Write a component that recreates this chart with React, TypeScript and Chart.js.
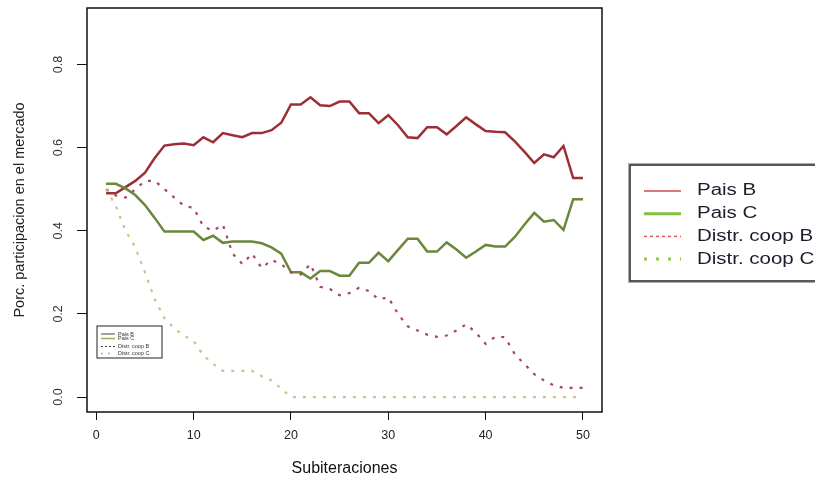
import React, { useEffect, useRef } from "react";
import { Chart, registerables } from "chart.js";
Chart.register(...registerables);

const iterations = [1, 2, 3, 4, 5, 6, 7, 8, 9, 10, 11, 12, 13, 14, 15, 16, 17, 18, 19, 20, 21, 22, 23, 24, 25, 26, 27, 28, 29, 30, 31, 32, 33, 34, 35, 36, 37, 38, 39, 40, 41, 42, 43, 44, 45, 46, 47, 48, 49, 50];

const paisB = [0.49, 0.49, 0.505, 0.52, 0.54, 0.575, 0.605, 0.608, 0.61, 0.606,
  0.625, 0.613, 0.635, 0.63, 0.625, 0.635, 0.635, 0.642, 0.66, 0.704,
  0.704, 0.721, 0.702, 0.70, 0.711, 0.711, 0.683, 0.683, 0.659, 0.678,
  0.654, 0.625, 0.623, 0.649, 0.649, 0.632, 0.652, 0.673, 0.656, 0.64,
  0.638, 0.637, 0.615, 0.59, 0.563, 0.584, 0.577, 0.604, 0.527, 0.527];

const paisC = [0.513, 0.513, 0.502, 0.486, 0.462, 0.431, 0.398, 0.398, 0.398, 0.398,
  0.378, 0.388, 0.371, 0.374, 0.374, 0.374, 0.37, 0.36, 0.345, 0.30,
  0.30, 0.285, 0.303, 0.303, 0.292, 0.292, 0.323, 0.323, 0.347, 0.327,
  0.354, 0.381, 0.381, 0.35, 0.35, 0.372, 0.355, 0.335, 0.35, 0.366,
  0.362, 0.362, 0.385, 0.415, 0.443, 0.422, 0.426, 0.402, 0.476, 0.476];

const coopB = [0.50, 0.485, 0.48, 0.50, 0.52, 0.52, 0.50, 0.48, 0.46, 0.455,
  0.41, 0.40, 0.415, 0.345, 0.32, 0.345, 0.31, 0.33, 0.32, 0.30,
  0.295, 0.32, 0.265, 0.26, 0.245, 0.25, 0.263, 0.255, 0.235, 0.24,
  0.20, 0.17, 0.16, 0.15, 0.145, 0.148, 0.16, 0.175, 0.155, 0.128,
  0.145, 0.144, 0.103, 0.079, 0.055, 0.04, 0.028, 0.022, 0.022, 0.022];

const coopC = [0.50, 0.46, 0.40, 0.36, 0.30, 0.235, 0.19, 0.165, 0.148, 0.135,
  0.10, 0.08, 0.063, 0.063, 0.063, 0.063, 0.05, 0.04, 0.02, 0.0,
  0.0, 0.0, 0.0, 0.0, 0.0, 0.0, 0.0, 0.0, 0.0, 0.0,
  0.0, 0.0, 0.0, 0.0, 0.0, 0.0, 0.0, 0.0, 0.0, 0.0,
  0.0, 0.0, 0.0, 0.0, 0.0, 0.0, 0.0, 0.0, 0.0, 0.0];

const seriesLabels = ["Pais B", "Pais C", "Distr. coop B", "Distr. coop C"];
const xTickValues = [0, 10, 20, 30, 40, 50];
const yTickValues = [0.0, 0.2, 0.4, 0.6, 0.8];
const xTitle = "Subiteraciones";
const yTitle = "Porc. participacion en el mercado";

const lineColors = ["#9c2e36", "#6b873a", "#a4485a", "#c2c880"];
const legendColors = ["#d04a4a", "#86c040", "#e05a5a", "#92c84c"];
const legendWidths = [1.5, 3, 1.5, 3];
const legendDashes: number[][] = [[], [], [3, 3], [3, 9]];
const smallLegendColors = ["#5a3a2a", "#9ab860", "#444444", "#a8b880"];
const smallLegendDashes: number[][] = [[], [], [2, 2], [2, 5]];

const FONT = "'Liberation Sans', Arial, sans-serif";

const pts = (vals: number[]) => iterations.map((x, i) => ({ x, y: vals[i] }));

const boxAndLegends = {
  id: "boxAndLegends",
  afterDraw(chart: any) {
    const { ctx, chartArea: a } = chart;
    ctx.save();
    // plot box
    ctx.strokeStyle = "#111";
    ctx.lineWidth = 1.5;
    ctx.setLineDash([]);
    ctx.strokeRect(a.left, a.top, a.right - a.left, a.bottom - a.top);

    // small legend inside plot (bottom-left)
    const sx = a.left + 10;
    const sy = a.bottom - 86;
    ctx.lineWidth = 1;
    ctx.strokeStyle = "#222";
    ctx.strokeRect(sx, sy, 65, 32);
    ctx.font = `5.5px ${FONT}`;
    ctx.textBaseline = "middle";
    ctx.fillStyle = "#333";
    const sRows = [8, 12.5, 20.5, 27.5];
    for (let k = 0; k < 4; k++) {
      const yy = sy + sRows[k];
      ctx.beginPath();
      ctx.setLineDash(smallLegendDashes[k]);
      ctx.strokeStyle = smallLegendColors[k];
      ctx.lineWidth = k === 1 || k === 3 ? 1.6 : 1;
      ctx.moveTo(sx + 4, yy);
      ctx.lineTo(sx + 18, yy);
      ctx.stroke();
      ctx.fillText(seriesLabels[k], sx + 21, yy);
    }

    // big legend on the right
    ctx.setLineDash([]);
    const bx = a.right + 28;
    const by = a.top + 157;
    const bh = 116;
    ctx.strokeStyle = "#aaa";
    ctx.lineWidth = 1;
    ctx.strokeRect(bx - 1.5, by - 1.5, 300, bh + 3);
    ctx.strokeStyle = "#222";
    ctx.lineWidth = 1.5;
    ctx.strokeRect(bx, by, 300, bh);
    ctx.textBaseline = "middle";
    for (let k = 0; k < 4; k++) {
      const yy = by + 26 + k * 22.7;
      ctx.beginPath();
      ctx.setLineDash(legendDashes[k]);
      ctx.strokeStyle = legendColors[k];
      ctx.lineWidth = legendWidths[k];
      ctx.moveTo(bx + 14, yy);
      ctx.lineTo(bx + 51, yy);
      ctx.stroke();
      ctx.save();
      ctx.translate(bx + 67, yy);
      ctx.scale(1.28, 1);
      ctx.font = `16px ${FONT}`;
      ctx.fillStyle = "#1c1c2c";
      ctx.fillText(seriesLabels[k], 0, 0);
      ctx.restore();
    }
    ctx.restore();
  },
};

export default function App() {
  const ref = useRef<HTMLCanvasElement | null>(null);
  useEffect(() => {
    if (!ref.current) return;
    const chart = new Chart(ref.current, {
      type: "line",
      data: {
        datasets: [
          { label: seriesLabels[0], data: pts(paisB), borderColor: lineColors[0], borderWidth: 2.5, order: 4 },
          { label: seriesLabels[1], data: pts(paisC), borderColor: lineColors[1], borderWidth: 2.5, order: 3 },
          { label: seriesLabels[2], data: pts(coopB), borderColor: lineColors[2], borderWidth: 2.2, borderDash: [3, 7], order: 2 },
          { label: seriesLabels[3], data: pts(coopC), borderColor: lineColors[3], borderWidth: 2.2, borderDash: [3, 7], order: 1 },
        ] as any,
      },
      options: {
        animation: false,
        responsive: true,
        maintainAspectRatio: false,
        elements: { point: { radius: 0 }, line: { tension: 0, fill: false, borderCapStyle: "butt" } },
        layout: { padding: { left: 0, top: 8, right: 213, bottom: 0 } },
        plugins: { legend: { display: false }, tooltip: { enabled: false } },
        scales: {
          x: {
            type: "linear",
            min: -0.96,
            max: 51.96,
            afterFit: (s: any) => { s.height = 71; s.paddingLeft = 0; s.paddingRight = 0; },
            afterBuildTicks: (s: any) => { s.ticks = xTickValues.map((v) => ({ value: v })); },
            ticks: { color: "#222", font: { family: FONT, size: 12.5 }, padding: 8, maxRotation: 0, callback: (v: any) => String(v) },
            grid: { display: true, drawOnChartArea: false, drawTicks: true, tickLength: 8, color: "#111", lineWidth: 1 },
            border: { display: false },
            title: { display: true, text: xTitle, color: "#111", font: { family: FONT, size: 16 }, padding: { top: 0, bottom: 5 } },
          },
          y: {
            type: "linear",
            min: -0.036,
            max: 0.936,
            afterFit: (s: any) => { s.width = 87; s.paddingTop = 0; s.paddingBottom = 0; },
            afterBuildTicks: (s: any) => { s.ticks = yTickValues.map((v) => ({ value: v })); },
            ticks: { color: "#333", font: { family: FONT, size: 12.5 }, padding: 10, minRotation: 90, maxRotation: 90, crossAlign: "center", callback: (v: any) => Number(v).toFixed(1) },
            grid: { display: true, drawOnChartArea: false, drawTicks: true, tickLength: 10, color: "#111", lineWidth: 1 },
            border: { display: false },
            title: { display: true, text: yTitle, color: "#222", font: { family: FONT, size: 14.5 }, padding: { top: 11, bottom: 0 } },
          },
        },
      } as any,
      plugins: [boxAndLegends],
    });
    return () => chart.destroy();
  }, []);
  return (
    <div style={{ position: "absolute", left: 0, top: 0, width: 815, height: 483, background: "#fff" }}>
      <canvas ref={ref} />
    </div>
  );
}
